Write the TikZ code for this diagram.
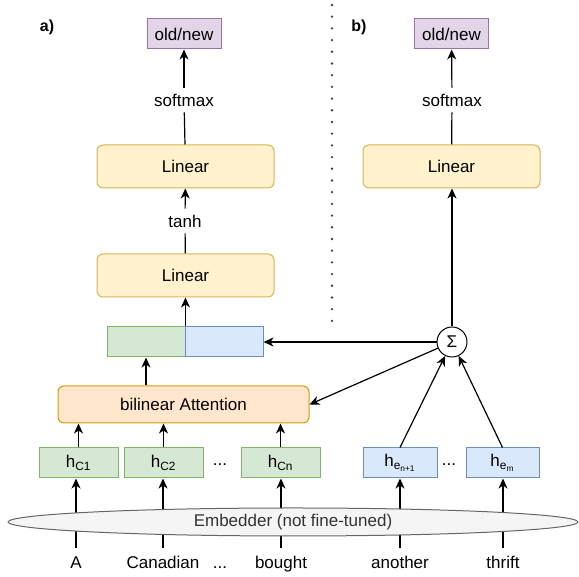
\documentclass[tikz,border=0pt]{standalone}
\usepackage{fontspec}
\setmainfont{Liberation Sans}
\usetikzlibrary{arrows.meta}
\usetikzlibrary{shapes.geometric}

\definecolor{linfill}{HTML}{FFF2CC}
\definecolor{linedge}{HTML}{D6B656}
\definecolor{attfill}{HTML}{FFE6CC}
\definecolor{attedge}{HTML}{D79B00}
\definecolor{grnfill}{HTML}{D5E8D4}
\definecolor{grnedge}{HTML}{82B366}
\definecolor{blufill}{HTML}{DAE8FC}
\definecolor{bluedge}{HTML}{6C8EBF}
\definecolor{purfill}{HTML}{E1D5E7}
\definecolor{puredge}{HTML}{9673A6}
\definecolor{embfill}{HTML}{F5F5F5}
\definecolor{embedge}{HTML}{666666}
\definecolor{embtext}{HTML}{333333}

\tikzset{
  box/.style={draw, line width=1pt, inner sep=0pt, minimum height=30pt},
  linbox/.style={box, rounded corners=6pt, fill=linfill, draw=linedge, minimum width=177pt, minimum height=43pt},
  attbox/.style={box, rounded corners=6pt, fill=attfill, draw=attedge, minimum width=251pt, minimum height=37pt},
  outbox/.style={box, fill=purfill, draw=puredge, minimum width=74pt},
  gbox/.style={box, fill=grnfill, draw=grnedge},
  bbox/.style={box, fill=blufill, draw=bluedge},
  lbl/.style={inner sep=6pt},
  word/.style={anchor=base, inner xsep=2pt, inner ysep=9pt, text height=12pt, text depth=4pt},
  arr/.style={-{Stealth[length=10pt,width=9pt,inset=3pt]}, line width=1.2pt},
  sep/.style={line width=2.6pt, line cap=round, dash pattern=on 0pt off 11.7pt, black!75},
}

\begin{document}
\begin{tikzpicture}[x=1pt, y=1pt, font=\fontsize{17}{20}\selectfont]
\useasboundingbox (0,0) rectangle (579,577);

% dotted separator between a) and b)
\draw[sep] (332,572) -- (332,252);

\node[font=\bfseries\fontsize{16}{19}\selectfont] (lbla) at (47,550) {a)};
\node[font=\bfseries\fontsize{16}{19}\selectfont] (lblb) at (359,550) {b)};

% a) left branch
\node[outbox] (outa) at (184,543) {old/new};
\node[lbl] (smaxa) at (184,477) {softmax};
\node[linbox] (lin2a) at (185.5,410.5) {Linear};
\node[lbl] (tanha) at (185,356) {tanh};
\node[linbox] (lin1a) at (185.5,301.5) {Linear};
\node[gbox, minimum width=78pt] (cl) at (146,235) {};
\node[bbox, minimum width=78pt] (cr) at (224,235) {};
\node[attbox] (att) at (183.5,172.5) {bilinear Attention};

\node[gbox, minimum width=79pt] (hc1) at (78.5,114) {h\textsubscript{C1}};
\node[gbox, minimum width=79pt] (hc2) at (163.5,114) {h\textsubscript{C2}};
\node (dotsa) at (220,112) {...};
\node[gbox, minimum width=79pt] (hcn) at (280.5,114) {h\textsubscript{Cn}};

% b) right branch
\node[outbox] (outb) at (451.5,543) {old/new};
\node[lbl] (smaxb) at (452,477) {softmax};
\node[linbox] (linb) at (451.5,410.5) {Linear};
\node[draw, circle, line width=1pt, fill=white, minimum size=30pt, inner sep=0pt] (sig) at (452,235) {Σ};

\node[bbox, minimum width=74pt] (he1) at (400,114) {h\textsubscript{e\textsubscript{n+1}}};
\node (dotsb) at (449,112) {...};
\node[bbox, minimum width=73pt] (hem) at (502.5,114) {h\textsubscript{e\textsubscript{m}}};

% input words
\node[word] (wA) at (76,8) {A};
\node[word] (wcan) at (163,8) {Canadian};
\node[word] (wdots) at (220,8) {...};
\node[word] (wbou) at (281,8) {bought};
\node[word] (wano) at (400,8) {another};
\node[word] (wthr) at (503,8) {thrift};

\draw[arr] (wA.north) -- (wA.north |- hc1.south);
\draw[arr] (wcan.north) -- (wcan.north |- hc2.south);
\draw[arr] (wbou.north) -- (wbou.north |- hcn.south);
\draw[arr] (wano.north) -- (wano.north |- he1.south);
\draw[arr] (wthr.north) -- (wthr.north |- hem.south);

\node[draw=embedge, fill=embfill, text=embtext, ellipse, line width=1pt, minimum width=570pt, minimum height=28pt, inner sep=0pt] (emb) at (293,55) {Embedder (not fine-tuned)};

\draw[arr] (hc1.north) -- (hc1.north |- att.south);
\draw[arr] (hc2.north) -- (hc2.north |- att.south);
\draw[arr] (hcn.north) -- (hcn.north |- att.south);
\draw[arr] (att.north -| cl) -- (cl.south);
\draw[arr] (cl.north east) -- (cl.north east |- lin1a.south);
\draw[line width=1.2pt] (lin1a) -- (tanha);
\draw[arr] (tanha) -- (lin2a);
\draw[line width=1.2pt] (lin2a) -- (smaxa);
\draw[arr] (smaxa) -- (outa);

\draw[arr] (he1.north) -- (sig);
\draw[arr] (hem.north) -- (sig);
\draw[arr] (sig) -- (cr);
\draw[arr] (sig) -- (att.east);
\draw[arr] (sig.north) -- (sig.north |- linb.south);
\draw[line width=1.2pt] (linb) -- (smaxb);
\draw[arr] (smaxb) -- (outb);

\end{tikzpicture}
\end{document}
